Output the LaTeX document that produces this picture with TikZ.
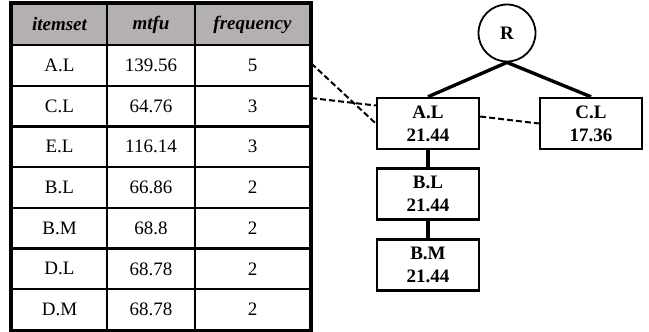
\documentclass[tikz,border=0pt]{standalone}
\usepackage{fontspec}
\setmainfont{Liberation Serif}
\usepackage{tikz}
\usetikzlibrary{calc}
\definecolor{head}{HTML}{B4B0AF}
\definecolor{ink}{HTML}{000000}
\tikzset{
  cell/.style={draw=ink, line width=2.4pt, minimum height=40.7pt, inner sep=0pt,
    font=\fontsize{19}{23}\selectfont},
  hcell/.style={cell, fill=head, minimum height=41pt, font=\fontsize{19}{23}\selectfont\bfseries\itshape},
  outer/.style={draw=ink, line width=3.2pt},
  tnode/.style={draw=ink, line width=2.4pt, minimum width=102pt, minimum height=51pt,
    inner sep=0pt, align=center, font=\fontsize{19}{23}\selectfont\bfseries},
  rnode/.style={circle, draw=ink, line width=1.8pt, minimum size=57pt, inner sep=0pt,
    font=\fontsize{19}{23}\selectfont\bfseries},
  tline/.style={draw=ink, line width=3.4pt},
  dline/.style={draw=ink, line width=2pt, dash pattern=on 6pt off 3pt}
}
\begin{document}
\begin{tikzpicture}[x=1pt, y=-1pt]
  \useasboundingbox (0,0) rectangle (649,332);

  % header
  \node[hcell, minimum width=95pt] (h1) at (59.5,24.5) {itemset};
  \node[hcell, minimum width=88pt] (h2) at (151,24.5) {mtfu};
  \node[hcell, minimum width=115pt] (h3) at (252.5,24.5) {frequency};

  % rows
  \foreach \set/\mtfu/\freq [count=\i] in {A.L/139.56/5, C.L/64.76/3, E.L/116.14/3,
      B.L/66.86/2, B.M/68.8/2, D.L/68.78/2, D.M/68.78/2} {
    \node[cell, minimum width=95pt] (r\i c1) at (59.5,45+40.7*\i-20.35) {\set};
    \node[cell, minimum width=88pt] (r\i c2) at (151,45+40.7*\i-20.35) {\mtfu};
    \node[cell, minimum width=115pt] (r\i c3) at (252.5,45+40.7*\i-20.35) {\freq};
  }
  \draw[outer] (h1.north west) rectangle (r7c3.south east);

  % tree
  \node[rnode] (R) at (507,33) {R};
  \node[tnode] (al) at (428,123.5) {A.L\\21.44};
  \node[tnode] (cl) at (591,123.5) {C.L\\17.36};
  \node[tnode] (bl) at (428,194) {B.L\\21.44};
  \node[tnode] (bm) at (428,265) {B.M\\21.44};

  \draw[tline] (R.south) -- (al.north);
  \draw[tline] (R.south) -- (cl.north);
  \draw[tline] (al.south) -- (bl.north);
  \draw[tline] (bl.south) -- (bm.north);

  % links
  \draw[dline] ([yshift=2pt]r1c3.east) -- (al.west);
  \draw[dline] ([yshift=8pt]r2c3.east) -- ([yshift=18pt]al.west);
  \draw[dline] ([yshift=7pt]al.east) -- (cl.west);
\end{tikzpicture}
\end{document}
